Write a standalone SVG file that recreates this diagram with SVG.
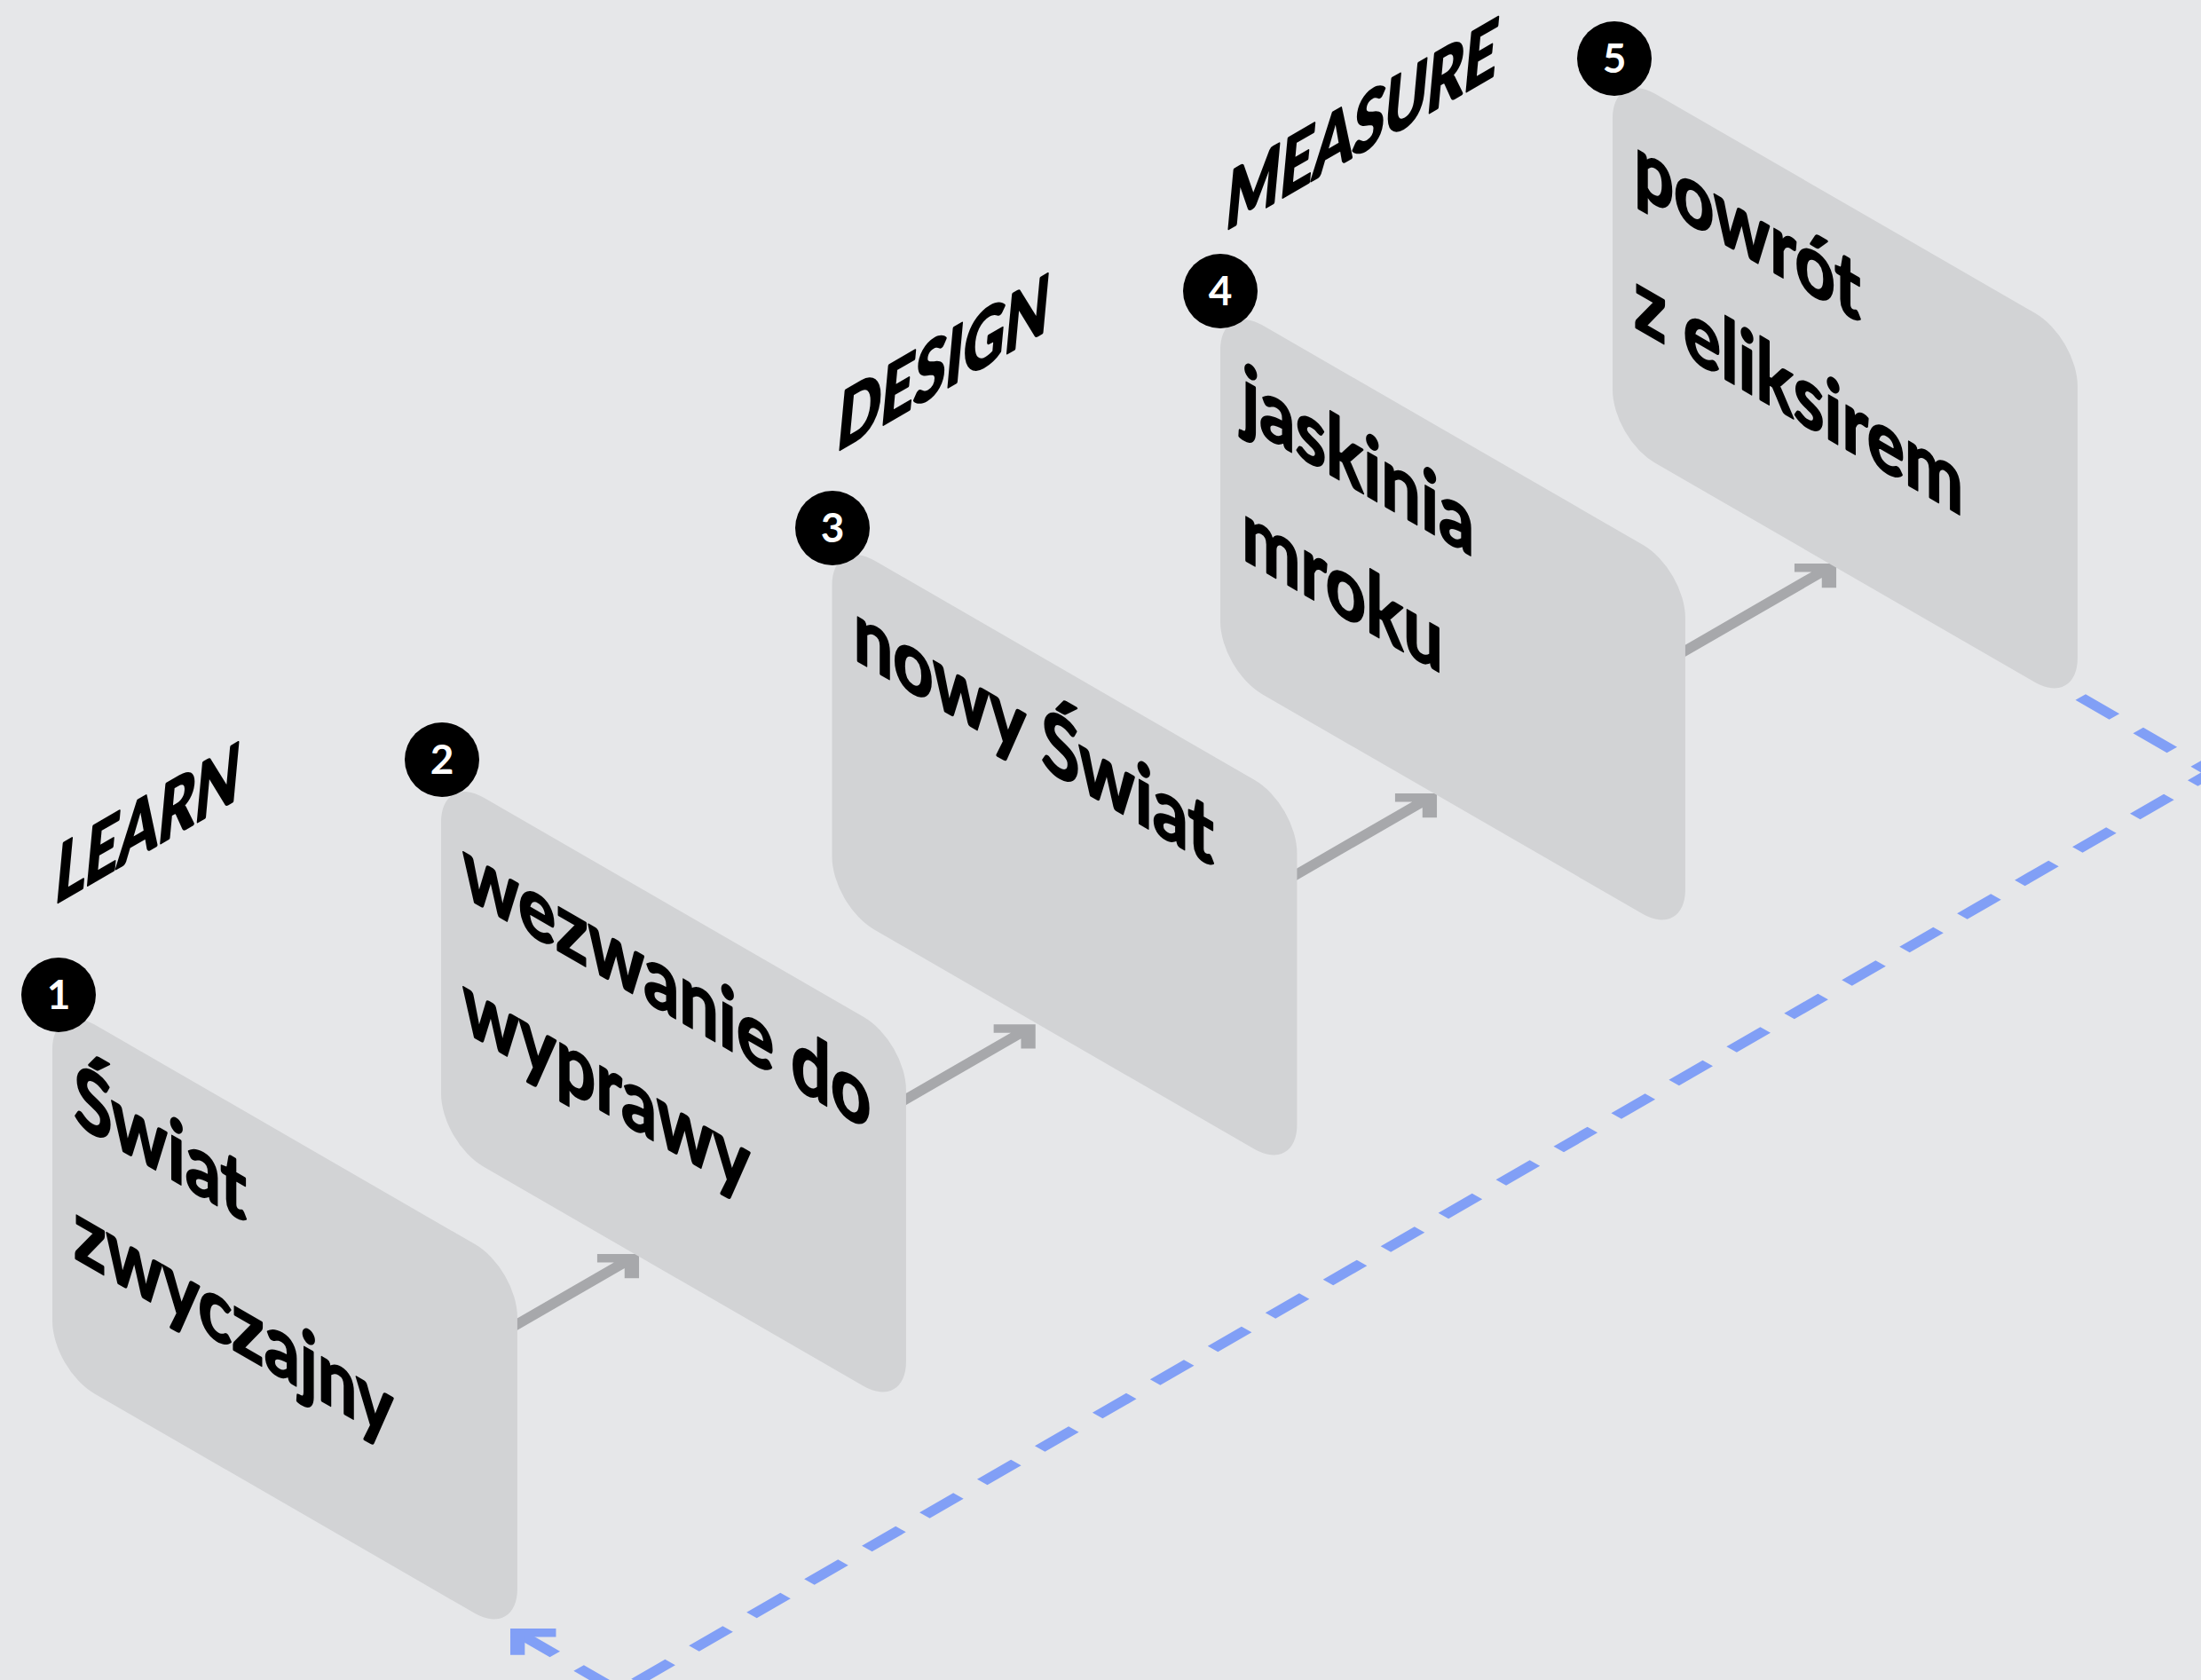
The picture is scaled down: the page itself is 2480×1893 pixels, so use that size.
<svg xmlns="http://www.w3.org/2000/svg" width="2480" height="1893" viewBox="0 0 2480 1893">
<defs>
<style>
.bg{fill:#e6e7e9}
.card{fill:#d2d3d5}
.ct{font-family:Lato,"Noto Sans",sans-serif;font-weight:700;font-size:96px;fill:#000;stroke:#000;stroke-width:2.2;stroke-linejoin:round}
.lbl{font-family:Lato,"Noto Sans",sans-serif;font-weight:700;font-style:italic;font-size:87px;fill:#000;stroke:#000;stroke-width:3;stroke-linejoin:round}
.badge{fill:#000}
.bn{font-family:Lato,"Noto Sans",sans-serif;font-weight:700;font-size:46px;fill:#fff;text-anchor:middle}
.arr{fill:none;stroke:#a7a8ab;stroke-width:13.3;stroke-linejoin:miter;stroke-miterlimit:10}
.loop{fill:none;stroke:#819ff6;stroke-width:13.3;stroke-dasharray:44 31}
.loophead{fill:none;stroke:#819ff6;stroke-width:13.3;stroke-linejoin:miter;stroke-miterlimit:10}
</style>
</defs>
<rect class="bg" x="0" y="0" width="2480" height="1893"/>
<g id="connectors">
<g transform="matrix(0.866 0.5 0.866 -0.5 711.9 1417.7)"><path class="arr" d="M0,-162 L0,0 M-22.5,-22.5 L0,0 L22.5,-22.5"/></g>
<g transform="matrix(0.866 0.5 0.866 -0.5 1158.6 1159)"><path class="arr" d="M0,-170 L0,0 M-22.5,-22.5 L0,0 L22.5,-22.5"/></g>
<g transform="matrix(0.866 0.5 0.866 -0.5 1610.9 898.7)"><path class="arr" d="M0,-184 L0,0 M-22.5,-22.5 L0,0 L22.5,-22.5"/></g>
<g transform="matrix(0.866 0.5 0.866 -0.5 2060.9 639.7)"><path class="arr" d="M0,-197 L0,0 M-22.5,-22.5 L0,0 L22.5,-22.5"/></g>
<g transform="matrix(0.866 0.5 0.866 -0.5 698 1906)">
<path class="loop" d="M-245,2071 L0,2071 L0,0 L-125,0"/>
<path class="loophead" d="M-107.6,25 L-132.6,0 L-107.6,-25"/>
</g>
</g>
<g id="labels">
<text class="lbl" transform="matrix(0.797 -0.46 0 1 63 1018)" x="0" y="0">LEARN</text>
<text class="lbl" transform="matrix(0.797 -0.46 0 1 944 508)" x="0" y="0">DESIGN</text>
<text class="lbl" transform="matrix(0.797 -0.46 0 1 1382 259)" x="0" y="0">MEASURE</text>
</g>
<g id="node5">
<g transform="matrix(0.866 0.5 0 1 1817 78)">
<rect class="card" x="0" y="0" width="605" height="416" rx="55" ry="55"/>
<g transform="scale(0.95 1)">
<text class="ct" x="29.5" y="124">powrót</text>
<text class="ct" x="29.5" y="276">z eliksirem</text>
</g>
</g>
<circle class="badge" cx="1819" cy="66" r="42"/>
<text class="bn" x="1819" y="82">5</text>
</g>
<g id="node4">
<g transform="matrix(0.866 0.5 0 1 1375 339)">
<rect class="card" x="0" y="0" width="605" height="416" rx="55" ry="55"/>
<g transform="scale(0.95 1)">
<text class="ct" x="29.5" y="124">jaskinia</text>
<text class="ct" x="29.5" y="276">mroku</text>
</g>
</g>
<circle class="badge" cx="1375" cy="328" r="42"/>
<text class="bn" x="1375" y="344">4</text>
</g>
<g id="node3">
<g transform="matrix(0.866 0.5 0 1 937.5 604)">
<rect class="card" x="0" y="0" width="605" height="416" rx="55" ry="55"/>
<g transform="scale(0.95 1)">
<text class="ct" x="29.5" y="124">nowy Świat</text>
</g>
</g>
<circle class="badge" cx="938" cy="595" r="42"/>
<text class="bn" x="938" y="611">3</text>
</g>
<g id="node2">
<g transform="matrix(0.866 0.5 0 1 497 871)">
<rect class="card" x="0" y="0" width="605" height="416" rx="55" ry="55"/>
<g transform="scale(0.95 1)">
<text class="ct" x="29.5" y="124">wezwanie do</text>
<text class="ct" x="29.5" y="276">wyprawy</text>
</g>
</g>
<circle class="badge" cx="498" cy="856" r="42"/>
<text class="bn" x="498" y="872">2</text>
</g>
<g id="node1">
<g transform="matrix(0.866 0.5 0 1 59 1127)">
<rect class="card" x="0" y="0" width="605" height="416" rx="55" ry="55"/>
<g transform="scale(0.95 1)">
<text class="ct" x="29.5" y="124">Świat</text>
<text class="ct" x="29.5" y="276">zwyczajny</text>
</g>
</g>
<circle class="badge" cx="66" cy="1121" r="42"/>
<text class="bn" x="66" y="1137">1</text>
</g>
</svg>
